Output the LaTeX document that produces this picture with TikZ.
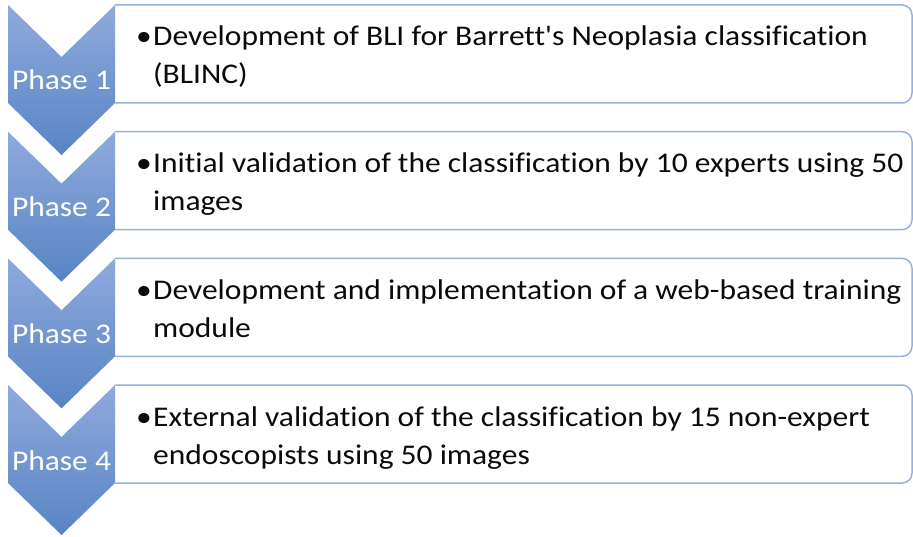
\documentclass[tikz,border=0pt]{standalone}
\usepackage{fontspec}
\newfontfamily\bodyfont{Carlito}[FakeStretch=1.105, Ligatures={NoCommon}]
\definecolor{chevtop}{RGB}{143,170,220}
\definecolor{chevbot}{RGB}{88,132,196}
\definecolor{boxblue}{RGB}{150,178,225}
\definecolor{txt}{RGB}{10,10,10}
\tikzset{
  boxl/.style={draw=boxblue, line width=1.5pt, rounded corners=10pt},
  chev/.style={top color=chevtop, bottom color=chevbot},
  phasetxt/.style={text=white, inner sep=0pt, anchor=base, font=\bodyfont\fontsize{28.5}{34}\selectfont},
  bodytxt/.style={text=txt, inner sep=0pt, anchor=base west, font=\bodyfont\fontsize{28.5}{34}\selectfont},
}
\begin{document}
\begin{tikzpicture}[x=1pt,y=-1pt]
\fill[white] (0,0) rectangle (913,537);
\useasboundingbox (0,0) rectangle (913,537);
\foreach \i/\lab/\la/\lb in {
  0/1/{Development of BLI for Barrett's Neoplasia classification}/{(BLINC)},
  1/2/{Initial validation of the classification by 10 experts using 50}/{images},
  2/3/{Development and implementation of a web-based training}/{module},
  3/4/{External validation of the classification by 15 non-expert}/{endoscopists using 50 images}}{
  \pgfmathsetmacro\yo{5+126.67*\i}
  \draw[boxl] (115,\yo) -- (912,\yo) -- (912,\yo+98) -- (115,\yo+98);
  \shade[chev] (8,\yo) -- (61.5,\yo+52) -- (115,\yo) -- (115,\yo+98) -- (61.5,\yo+150) -- (8,\yo+98) -- cycle;
  \node[phasetxt] (p\lab) at (61.5,\yo+85) {Phase \lab};
  \node[bodytxt] (b\lab) at (136,\yo+41) {•};
  \node[bodytxt] (t\lab a) at (153,\yo+41) {\la};
  \node[bodytxt] (t\lab b) at (153,\yo+79) {\lb};
}
\end{tikzpicture}
\end{document}
